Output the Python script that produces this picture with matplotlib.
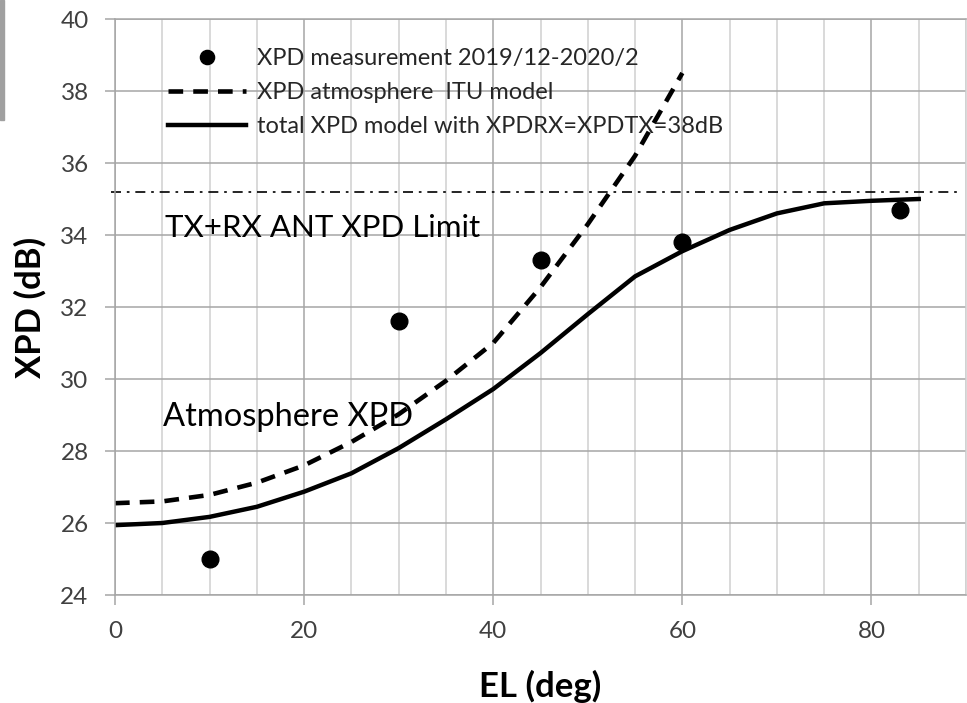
import matplotlib
matplotlib.use('Agg')
import matplotlib.pyplot as plt
from matplotlib.patches import Rectangle
from matplotlib.ticker import MultipleLocator

# ==========================================
# 数据
# ==========================================
el_meas = [10, 30, 45, 60, 83]
xpd_meas = [25.0, 31.6, 33.3, 33.8, 34.7]

el_itu = [0, 5, 10, 15, 20, 25, 30, 35, 40, 45, 50, 55, 60]
xpd_itu = [26.55, 26.6, 26.78, 27.12, 27.6, 28.25, 29.02, 29.95, 31.0, 32.55, 34.3, 36.2, 38.5]

el_total = [0, 5, 10, 15, 20, 25, 30, 35, 40, 45, 50, 55, 60, 65, 70, 75, 80, 85]
xpd_total = [25.94, 26.0, 26.17, 26.45, 26.87, 27.38, 28.08, 28.88, 29.72, 30.72,
             31.8, 32.85, 33.55, 34.14, 34.6, 34.88, 34.95, 35.0]

limit_el = [-0.4, 89.4]
limit_xpd = 35.2

labels = ['XPD measurement 2019/12-2020/2',
          'XPD atmosphere  ITU model',
          'total XPD model with XPDRX=XPDTX=38dB']

plt.rcParams['font.family'] = ['Lato', 'DejaVu Sans']

GRID_MAJOR = '#a6a6a6'
GRID_MINOR = '#d0d0d0'
TXT = '#404040'

fig = plt.figure(figsize=(9.67, 7.03), dpi=100, facecolor='white')
ax = fig.add_axes([115 / 967, 1 - 595 / 703, 851 / 967, 576 / 703])

# 网格
ax.set_xlim(0, 90)
ax.set_ylim(24, 40)
ax.xaxis.set_major_locator(MultipleLocator(20))
ax.xaxis.set_minor_locator(MultipleLocator(5))
ax.yaxis.set_major_locator(MultipleLocator(2))
ax.grid(True, which='major', color=GRID_MAJOR, lw=1.1)
ax.grid(True, which='minor', axis='x', color=GRID_MINOR, lw=1.1)
ax.set_axisbelow(True)

for s in ['left', 'bottom', 'top']:
    ax.spines[s].set_color(GRID_MAJOR)
    ax.spines[s].set_linewidth(1.1)
ax.spines['right'].set_color(GRID_MINOR)
ax.spines['right'].set_linewidth(1.1)

ax.tick_params(which='major', direction='out', length=7, width=1.1, color=GRID_MAJOR,
               labelsize=17.5, labelcolor=TXT, pad=12)
ax.tick_params(which='minor', length=0)

# 曲线
ax.plot(el_meas, xpd_meas, 'o', color='black', ms=12, label=labels[0], zorder=5)
ax.plot(el_itu, xpd_itu, color='black', lw=3.3, ls=(0, (3.2, 2.2)), label=labels[1])
ax.plot(el_total, xpd_total, color='black', lw=3.2, label=labels[2])
ax.plot(limit_el, [limit_xpd, limit_xpd], color='black', lw=1.2,
        ls=(0, (6, 3.5, 1.6, 3.5)), clip_on=False)

ax.text(5.3, 33.94, 'TX+RX ANT XPD Limit', fontsize=22.5, va='baseline', ha='left', color='black')
ax.text(5.1, 28.69, 'Atmosphere XPD', fontsize=23.5, va='baseline', ha='left', color='black')

ax.set_xlabel('EL (deg)', fontsize=25, fontweight='bold', labelpad=20)
ax.set_ylabel('XPD (dB)', fontsize=25, fontweight='bold', labelpad=10)

leg = ax.legend(loc='upper left', bbox_to_anchor=(168 / 967, 1 - 48 / 703),
                bbox_transform=fig.transFigure, frameon=False, fontsize=17,
                borderpad=0, borderaxespad=0, handlelength=3.3, handletextpad=0.45,
                labelspacing=0.55, markerscale=0.85)
for t in leg.get_texts():
    t.set_color('#262626')

# 左上角灰条
fig.patches.append(Rectangle((0, 1 - 120 / 703), 4 / 967, 120 / 703,
                             transform=fig.transFigure, color='#a0a0a0'))

plt.savefig('out.png', dpi=100)
